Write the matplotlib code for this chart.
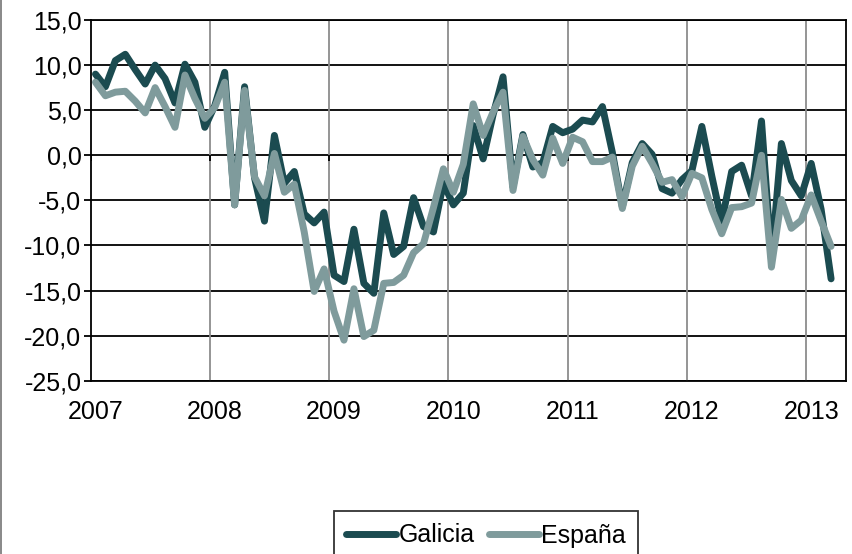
import matplotlib
matplotlib.use('Agg')
import matplotlib.pyplot as plt
import numpy as np
from matplotlib.lines import Line2D

years = ['2007', '2008', '2009', '2010', '2011', '2012', '2013']
series_names = ['Galicia', 'España']

galicia = [9.0, 7.6, 10.5, 11.2, 9.5, 7.9, 10.0, 8.5, 5.8, 10.1, 8.1, 3.1, 5.5, 9.2,
           -5.5, 7.6, -2.5, -7.3, 2.2, -3.1, -1.8, -6.5, -7.5, -6.3,
           -13.3, -14.0, -8.2, -14.2, -15.3, -6.4, -11.0, -10.1, -4.7, -7.9,
           -8.5, -3.1, -5.5, -4.2, 3.3, -0.4, 4.5, 8.7, -3.5, 2.3,
           -1.3, -0.8, 3.2, 2.5, 2.9, 3.9, 3.7, 5.4, 0.3, -5.7,
           -0.8, 1.3, 0.1, -3.7, -4.2, -2.7, -1.7, 3.2, -2.3, -7.4,
           -1.8, -1.1, -4.5, 3.8, -11.5, 1.3, -2.8, -4.5, -0.9, -6.0, -13.7]

espana = [8.1, 6.6, 7.0, 7.1, 6.0, 4.7, 7.5, 5.4, 3.1, 8.9, 6.3, 4.1, 5.3, 8.1,
          -5.5, 7.2, -2.4, -4.5, 0.2, -4.1, -3.2, -8.5, -15.1, -12.6,
          -17.3, -20.5, -14.8, -20.1, -19.4, -14.2, -14.1, -13.3, -10.8, -9.8,
          -5.8, -1.5, -4.1, -1.0, 5.7, 2.2, 4.8, 7.0, -3.9, 2.1,
          -0.5, -2.2, 1.9, -0.9, 2.0, 1.5, -0.7, -0.7, -0.2, -5.9,
          -1.2, 1.0, -0.9, -3.0, -2.7, -4.6, -2.0, -2.5, -6.0, -8.7,
          -5.8, -5.7, -5.3, 0.0, -12.4, -4.9, -8.1, -7.2, -4.4, -7.3, -10.1]

yticks = [-25, -20, -15, -10, -5, 0, 5, 10, 15]

plt.rcParams['font.family'] = ['Liberation Sans', 'DejaVu Sans']

W, H = 853, 554
fig = plt.figure(figsize=(W / 100, H / 100), dpi=100)
left, right, top, bottom = 90.5, 846, 20, 380.75
ax = fig.add_axes([left / W, 1 - bottom / H, (right - left) / W, (bottom - top) / H])

n = len(galicia)
x = np.arange(n) + 0.5
col_g = '#1B4B50'
col_e = '#7F9B9C'
lw = 5.0
lg, = ax.plot(x, galicia, color=col_g, lw=lw, solid_joinstyle='round',
              solid_capstyle='round', label=series_names[0], zorder=3)
le, = ax.plot(x, espana, color=col_e, lw=lw, solid_joinstyle='round',
              solid_capstyle='round', label=series_names[1], zorder=4)

ax.set_xlim(0, 76)
ax.set_ylim(-25, 15)

ax.set_yticks(yticks)
ax.set_yticklabels([f'{v:.1f}'.replace('.', ',') for v in yticks])
ax.yaxis.grid(True, color='black', lw=1.3)
ax.set_axisbelow(True)

year_pos = np.arange(len(years)) * 12
for xp in year_pos[1:]:
    ax.axvline(xp, color='#8c8c8c', lw=1.3, zorder=1)
# category axis crosses at 0: small tick marks below the zero line
ax.vlines(year_pos, -0.6, 0, color='black', lw=1.3, zorder=2)

fs = 18
ax.set_xticks(year_pos + 0.5)
ax.set_xticklabels(years)
ax.tick_params(axis='x', length=0, pad=14, labelsize=fs)
ax.tick_params(axis='y', direction='out', length=5, width=1.3, pad=1.5, labelsize=fs)

for s in ['left', 'right', 'top', 'bottom']:
    ax.spines[s].set_color('black')
    ax.spines[s].set_linewidth(1.3)

leg = fig.legend(handles=[lg, le], loc='upper center',
                 bbox_to_anchor=(486 / W, 1 - 511 / H), ncol=2, frameon=True,
                 fancybox=False, fontsize=fs, handlelength=2.0, handletextpad=0.1,
                 columnspacing=0.55, borderpad=0.5, borderaxespad=0)
leg.get_frame().set_edgecolor('black')
leg.get_frame().set_linewidth(1.3)

fig.add_artist(Line2D([0.6 / W, 0.6 / W], [0, 1], color='#7f7f7f', lw=1.3,
                      transform=fig.transFigure))

fig.savefig('out.png', dpi=100)
